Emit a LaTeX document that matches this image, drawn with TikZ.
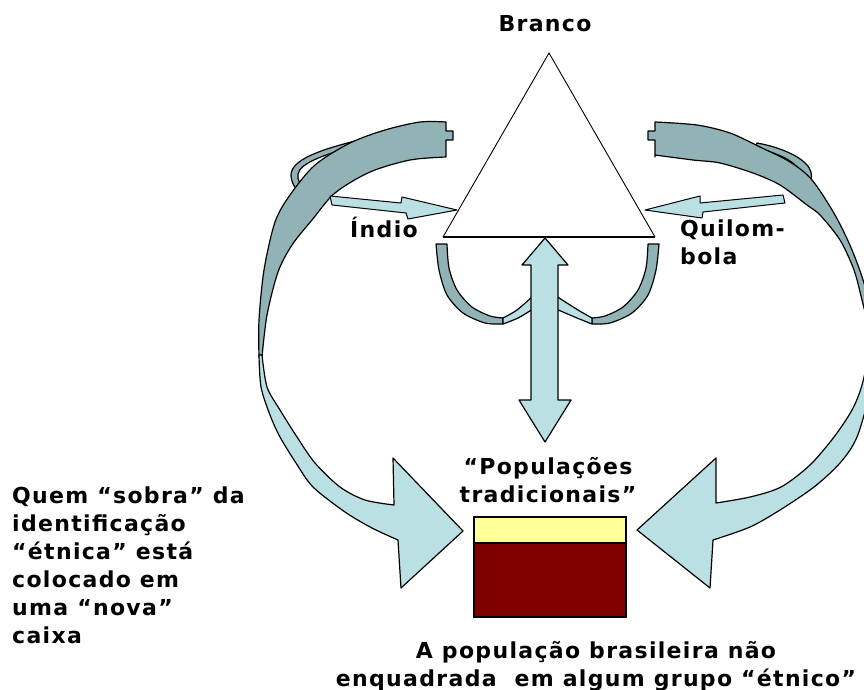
\documentclass[tikz,border=0pt]{standalone}
\usepackage{fontspec}
\setmainfont{DejaVu Sans}[LetterSpace=6]
\definecolor{bandDark}{RGB}{146,179,182}
\definecolor{bandLight}{RGB}{187,224,228}
\definecolor{boxYellow}{RGB}{255,255,153}
\definecolor{boxRed}{RGB}{128,0,0}
\begin{document}
\begin{tikzpicture}[x=1pt,y=-1pt,
		dark/.style={fill=bandDark,draw=black,line width=1.2pt,line join=round},
		light/.style={fill=bandLight,draw=black,line width=1.2pt,line join=round},
		lbl/.style={font=\fontsize{22}{28}\selectfont\bfseries,inner sep=0pt}]
	\useasboundingbox (0,0) rectangle (864,690);
	\clip (0,0) rectangle (864,690);
	% loops behind the big bands
	\draw[dark] (355,141) .. controls (320,150) and (290,160) .. (291,176) .. controls (292,186) and (298,192) .. (303,193) -- (307,188) .. controls (300,186) and (297,180) .. (298,174) .. controls (300,163) and (325,154) .. (357,146) -- cycle;
	\draw[dark] (757,143) .. controls (785,148) and (808,160) .. (811,172) .. controls (812,178) and (811,183) .. (809,186) -- (803,184) .. controls (805,176) and (800,166) .. (785,158) .. controls (775,153) and (765,150) .. (755,148) -- cycle;
	% left band
	\draw[dark] (446,157) -- (446,140) -- (453,140) -- (453,131) -- (446,131) -- plot[smooth] coordinates {(446,122) (420,122) (385,130) (350,143) (315,165) (290,195) (275,222) (264,270) (259,320) (259,357)} -- plot[smooth] coordinates {(262,357) (267,315) (278,272) (292,245) (312,220) (335,193) (370,172) (410,160) (446,157)} -- cycle;
	\draw[light] plot[smooth] coordinates {(259,355) (261,387) (270,415) (280,437) (296,463) (313,487) (345,512) (372,528) (398,540)} -- (401,588) -- (463,531) -- (393,458) -- plot[smooth] coordinates {(394,505) (365,500) (340,487) (315,463) (297,437) (280,410) (267,387) (262,355)} -- cycle;
	% right band
	\draw[dark] (655,157) -- (655,140) -- (648,140) -- (648,131) -- (655,131) -- plot[smooth] coordinates {(655,122) (697,125) (730,133) (760,147) (790,162) (812,180) (835,215) (852,250) (866,290) (875,340)} -- plot[smooth] coordinates {(872,340) (862,300) (854,270) (840,240) (820,215) (807,205) (780,185) (753,173) (720,163) (693,160) (655,155)} -- cycle;
	\draw[light] plot[smooth] coordinates {(875,340) (870,390) (857,437) (840,463) (814,487) (780,510) (750,527) (713,540)} -- (710,588) -- (637,530) -- (716,458) -- plot[smooth] coordinates {(716,503) (750,497) (781,487) (810,465) (834,437) (852,410) (862,385) (872,340)} -- cycle;
	% triangle
	\coordinate (baseL) at (443,237);
	\coordinate (top) at (549,53);
	\coordinate (baseR) at (655,237);
	\draw[fill=white,line width=0.9pt] (baseL) -- (top) -- (baseR);
	\draw[line width=1.5pt] (baseL) -- (baseR);
	% thin arrows into the triangle
	\draw[light,line width=1pt] (330,196) -- (401,203) -- (402,197) -- (457,210) -- (408,219) -- (406,213) -- (332,205) -- cycle;
	\draw[light,line width=1pt] (783,195) -- (700,203) -- (700,196) -- (645,210) -- (702,218) -- (703,212) -- (785,203) -- cycle;
	% arcs under the triangle
	\draw[dark] (436,244) -- (447,244) -- plot[smooth] coordinates {(447,244) (449,268) (457,290) (472,307) (490,316) (503,318)} -- (503,324) -- plot[smooth] coordinates {(503,324) (485,323) (463,313) (447,295) (439,270) (436,244)} -- cycle;
	\draw[light] plot[smooth] coordinates {(503,318) (517,310) (533,296)} -- (533,309) -- plot[smooth] coordinates {(533,309) (518,318) (503,324)} -- cycle;
	\draw[dark] (659,244) -- (648,244) -- plot[smooth] coordinates {(648,244) (646,268) (638,290) (623,307) (605,316) (592,318)} -- (592,324) -- plot[smooth] coordinates {(592,324) (610,323) (632,313) (648,295) (656,270) (659,244)} -- cycle;
	\draw[light] plot[smooth] coordinates {(592,318) (578,310) (556,296)} -- (556,309) -- plot[smooth] coordinates {(556,309) (577,318) (592,324)} -- cycle;
	% double arrow
	\draw[light] (545,238) -- (568,265) -- (558,265) -- (558,400) -- (571,400) -- (545,442) -- (519,400) -- (531,400) -- (531,265) -- (522,265) -- cycle;
	% box
	\draw[fill=boxRed,line width=1.5pt] (474,543) rectangle (626,617);
	\draw[fill=boxYellow,line width=1.5pt] (474,517) rectangle (626,543);
	% texts
	\node[lbl] (branco) at (545,24) {Branco};
	\node[lbl] (indio) at (384,227) {Índio};
	\node[lbl,anchor=west,align=left] (quilombola) at (680,242) {Quilom-\\bola};
	\node[lbl,align=center] (populacoes) at (548,480) {“Populações\\tradicionais”};
	\node[lbl,anchor=west,align=left] (sobra) at (12,565) {Quem “sobra” da\\identificação\\“étnica” está\\colocado em\\uma “nova”\\caixa};
	\node[lbl,align=center] (semgrupo) at (596,666) {A população brasileira não\\enquadrada\ \ em algum grupo “étnico”};
\end{tikzpicture}
\end{document}
